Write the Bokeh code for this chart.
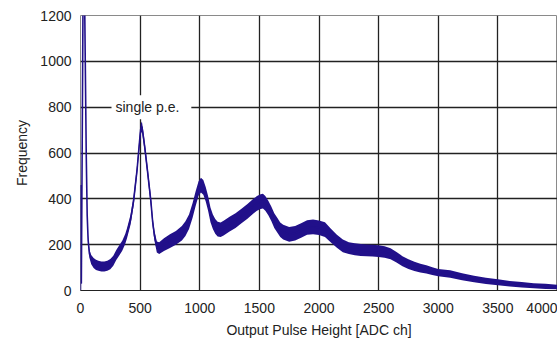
from bokeh.plotting import figure
from bokeh.models import FixedTicker, Label, Range1d
from bokeh.embed import file_html
from bokeh.resources import INLINE

# ADC channel positions
channel = [0, 2, 7, 15, 22, 32, 40, 48, 56, 64, 75, 90, 110, 130, 150, 175, 200, 225,
           250, 275, 300, 325, 350, 375, 390, 420, 445, 475, 495, 505, 515, 525, 540,
           560, 575, 590, 605, 620, 640, 660, 700, 750, 800, 850, 880, 910, 940, 965,
           990, 1010, 1030, 1050, 1070, 1090, 1110, 1130, 1150, 1175, 1200, 1250, 1300,
           1350, 1400, 1450, 1480, 1510, 1530, 1550, 1575, 1600, 1625, 1650, 1675, 1700,
           1750, 1800, 1850, 1900, 1950, 2000, 2050, 2100, 2150, 2200, 2250, 2300,
           2350, 2400, 2450, 2500, 2550, 2600, 2650, 2700, 2750, 2800, 2850, 2900, 2950,
           3000, 3100, 3200, 3300, 3400, 3500, 3600, 3700, 3800, 3900, 4000]

# centre of the noisy histogram band
frequency = [0, 460, 30, 700, 1350, 1400, 1000, 600, 330, 220, 160, 135, 120, 112, 108,
             105, 105, 108, 115, 130, 155, 175, 195, 225, 250, 310, 390, 530, 650, 705,
             715, 680, 620, 530, 460, 390, 300, 240, 190, 185, 200, 215, 230, 250, 270,
             300, 350, 400, 445, 460, 450, 420, 380, 330, 300, 280, 268, 265, 272, 290,
             305, 325, 345, 368, 380, 388, 390, 380, 360, 335, 305, 285, 265, 255, 245,
             250, 262, 275, 278, 274, 266, 240, 215, 195, 185, 180, 177, 175, 174, 172,
             168, 160, 145, 128, 115, 105, 98, 92, 85, 78, 72, 60, 50, 42, 36, 30, 25,
             21, 18, 15, 13]

# half thickness of the noise band
spread = [0, 0, 0, 0, 0, 0, 0, 0, 6, 14, 18, 20, 22, 22, 22, 22, 22, 22, 22, 22, 22,
          22, 22, 22, 22, 22, 22, 22, 22, 22, 22, 22, 22, 22, 22, 22, 22, 22, 24, 26,
          28, 30, 30, 32, 32, 32, 32, 32, 32, 32, 32, 32, 32, 32, 32, 32, 32, 32, 32, 32,
          32, 32, 32, 32, 32, 32, 32, 32, 32, 32, 32, 32, 32, 32, 32, 32, 32, 32, 32, 32,
          32, 30, 28, 28, 26, 26, 26, 26, 26, 26, 25, 24, 23, 22, 21, 20, 19, 18, 17, 16,
          16, 15, 14, 14, 13, 12, 12, 11, 11, 10, 10]

x_ticks = [0, 500, 1000, 1500, 2000, 2500, 3000, 3500, 4000]
y_ticks = [0, 200, 400, 600, 800, 1000, 1200]

lower = [f - s for f, s in zip(frequency, spread)]
upper = [f + s for f, s in zip(frequency, spread)]

FONT = "Liberation Sans"
CURVE = "#21108a"
GRID = "#222222"

p = figure(width=557, height=340, x_range=Range1d(0, 4000), y_range=Range1d(0, 1200),
           output_backend="svg", toolbar_location=None,
           min_border_left=80, min_border_right=0, min_border_top=15, min_border_bottom=50)

p.background_fill_color = "white"
p.border_fill_color = "white"
p.outline_line_color = "#8a8a8a"
p.outline_line_width = 1

p.xgrid.grid_line_color = GRID
p.ygrid.grid_line_color = GRID
p.xgrid.grid_line_width = 1.3
p.ygrid.grid_line_width = 1.3

p.xaxis.ticker = FixedTicker(ticks=x_ticks)
p.yaxis.ticker = FixedTicker(ticks=y_ticks)
p.xgrid.ticker = FixedTicker(ticks=x_ticks)
p.ygrid.ticker = FixedTicker(ticks=y_ticks)

for ax in (p.xaxis, p.yaxis):
    ax.major_tick_line_color = None
    ax.minor_tick_line_color = None
    ax.major_tick_out = 0
    ax.major_tick_in = 0
    ax.major_label_text_font = FONT
    ax.major_label_text_font_size = "14px"
    ax.major_label_text_color = "#222222"
    ax.axis_label_text_font = FONT
    ax.axis_label_text_font_size = "14px"
    ax.axis_label_text_font_style = "normal"
    ax.axis_label_text_color = "#222222"

p.xaxis.axis_line_color = GRID
p.yaxis.axis_line_color = None
p.xaxis.major_label_standoff = 12
p.yaxis.major_label_standoff = 9
p.xaxis.axis_label = "Output Pulse Height [ADC ch]"
p.yaxis.axis_label = "Frequency"
p.xaxis.axis_label_standoff = 6
p.yaxis.axis_label_standoff = 7

p.varea(x=channel, y1=lower, y2=upper, fill_color=CURVE, fill_alpha=1.0)
p.line(channel, frequency, line_color=CURVE, line_width=1.6)

lab = Label(x=260, y=800, text="single p.e.", text_font=FONT, text_font_size="14px",
            text_color="#222222", text_baseline="middle", text_align="left",
            background_fill_color="white", background_fill_alpha=1.0,
            padding=dict(left=4, right=12, top=4, bottom=4))
p.add_layout(lab)

open("out.html", "w").write(file_html(p, INLINE))
